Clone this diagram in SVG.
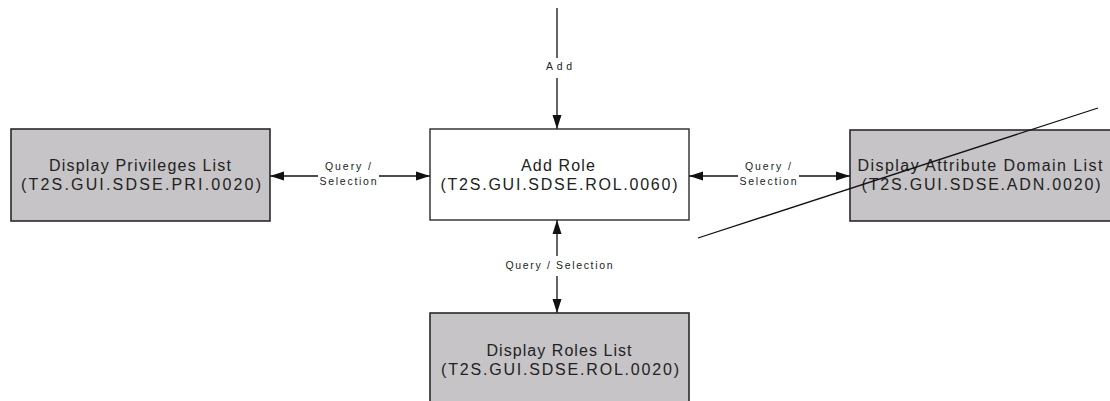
<svg xmlns="http://www.w3.org/2000/svg" width="1110" height="401" viewBox="0 0 1110 401">
<style>
.box{fill:#c6c4c6;stroke:#2a2a2a;stroke-width:1.6}
.wbox{fill:#ffffff;stroke:#2a2a2a;stroke-width:1.4}
.t{font-family:"Liberation Sans",Arial,sans-serif;font-size:16px;fill:#222;text-anchor:middle}
.l{font-family:"Liberation Sans",Arial,sans-serif;font-size:10.5px;fill:#222;text-anchor:middle}
.c{stroke:#111;stroke-width:1.3;fill:none}
</style>
<defs>
<marker id="ah" viewBox="0 0 14 10" refX="14" refY="5" markerWidth="14" markerHeight="10" markerUnits="userSpaceOnUse" orient="auto-start-reverse">
<path d="M0,0.5 L14,5 L0,9.5 Z" fill="#111"/>
</marker>
</defs>
<rect width="1110" height="401" fill="#ffffff"/>
<g id="connectors">
<line class="c" x1="557" y1="8" x2="557" y2="58"/>
<line class="c" x1="557" y1="78" x2="557" y2="129" marker-end="url(#ah)"/>
<text class="l" x="559" y="70" textLength="26" lengthAdjust="spacing">Add</text>
<line class="c" x1="270" y1="176" x2="318" y2="176" marker-start="url(#ah)"/>
<line class="c" x1="379" y1="176" x2="430" y2="176" marker-end="url(#ah)"/>
<text class="l" x="348" y="170" textLength="46" lengthAdjust="spacing">Query /</text>
<text class="l" x="348" y="185" textLength="57" lengthAdjust="spacing">Selection</text>
<line class="c" x1="689" y1="176" x2="738" y2="176" marker-start="url(#ah)"/>
<line class="c" x1="799" y1="176" x2="850" y2="176" marker-end="url(#ah)"/>
<text class="l" x="768" y="170" textLength="46" lengthAdjust="spacing">Query /</text>
<text class="l" x="768" y="185" textLength="57" lengthAdjust="spacing">Selection</text>
<line class="c" x1="557" y1="220" x2="557" y2="256" marker-start="url(#ah)"/>
<line class="c" x1="557" y1="276" x2="557" y2="313" marker-end="url(#ah)"/>
<text class="l" x="559" y="269" textLength="107" lengthAdjust="spacing">Query / Selection</text>
</g>
<g id="privileges">
<rect class="box" x="11" y="129" width="259" height="92"/>
<text class="t" x="140" y="171" textLength="182" lengthAdjust="spacing">Display Privileges List</text>
<text class="t" x="141" y="190" textLength="240" lengthAdjust="spacing">(T2S.GUI.SDSE.PRI.0020)</text>
</g>
<g id="addrole">
<rect class="wbox" x="430" y="129" width="259" height="91"/>
<text class="t" x="558" y="171" textLength="74" lengthAdjust="spacing">Add Role</text>
<text class="t" x="559" y="190" textLength="237" lengthAdjust="spacing">(T2S.GUI.SDSE.ROL.0060)</text>
</g>
<g id="attribute">
<rect class="box" x="850" y="130" width="262" height="91"/>
<text class="t" x="980" y="171" textLength="245" lengthAdjust="spacing">Display Attribute Domain List</text>
<text class="t" x="981" y="190" textLength="239" lengthAdjust="spacing">(T2S.GUI.SDSE.ADN.0020)</text>
</g>
<g id="roles">
<rect class="box" x="430" y="313" width="259" height="95"/>
<text class="t" x="559" y="356" textLength="145" lengthAdjust="spacing">Display Roles List</text>
<text class="t" x="560" y="375" textLength="238" lengthAdjust="spacing">(T2S.GUI.SDSE.ROL.0020)</text>
</g>
<line x1="698" y1="238" x2="1098" y2="108" stroke="#111" stroke-width="1.3"/>
</svg>
